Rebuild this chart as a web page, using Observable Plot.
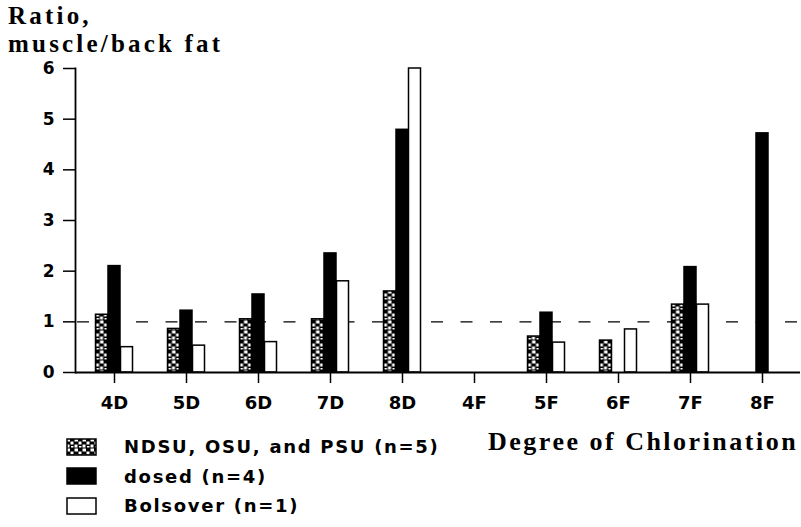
<!DOCTYPE html>
<html>
<head>
<meta charset="utf-8">
<script src="https://cdn.jsdelivr.net/npm/d3@7"></script>
<script src="https://cdn.jsdelivr.net/npm/@observablehq/plot@0.6"></script>
<style>
  html, body { margin: 0; padding: 0; background: #fff; }
  #wrap { position: relative; width: 801px; height: 527px; overflow: hidden; background: #fff; }
  #title { position: absolute; left: 8px; top: 2px; font-family: "Liberation Serif", "Times New Roman", serif; font-weight: bold; font-size: 25px; line-height: 28px; letter-spacing: 3.2px; color: #000; }
  #xtitle { position: absolute; left: 488px; top: 427px; font-family: "Liberation Serif", "Times New Roman", serif; font-weight: bold; font-size: 26px; letter-spacing: 2.5px; color: #000; white-space: nowrap; }
  #plot { position: absolute; left: 0; top: 0; }
  #legend { position: absolute; left: 66px; top: 432px; font-family: "DejaVu Sans", sans-serif; font-weight: bold; font-size: 18px; letter-spacing: 1.7px; color: #000; }
  .row { display: flex; align-items: center; height: 29.5px; }
  .row svg { margin-right: 27px; }
</style>
</head>
<body>
<div id="wrap">
  <div id="plot"></div>
  <div id="title">Ratio,<br>muscle/back fat</div>
  <div id="xtitle">Degree of Chlorination</div>
  <div id="legend"></div>
</div>
<script>
const categories = ["4D", "5D", "6D", "7D", "8D", "4F", "5F", "6F", "7F", "8F"];
const ndsu     = [1.14, 0.86, 1.05, 1.05, 1.60, null, 0.71, 0.63, 1.34, null];
const dosed    = [2.10, 1.22, 1.54, 2.35, 4.79, null, 1.18, null, 2.08, 4.72];
const bolsover = [0.50, 0.53, 0.60, 1.80, 6.00, null, 0.59, 0.85, 1.34, null];
const seriesNames = ["NDSU, OSU, and PSU (n=5)", "dosed (n=4)", "Bolsover (n=1)"];
const yTicks = [0, 1, 2, 3, 4, 5, 6];
const referenceRatio = [1];

const rows = (vals) => categories.map((c, i) => ({cat: c, v: vals[i]})).filter(d => d.v != null);

const fills = ["url(#stipple)", "#000", "#fff"];
const offsets = [-12.5, 0, 12.5];
const barOpts = (k) => ({x: "cat", y: "v", dx: offsets[k], insetLeft: 30, insetRight: 30,
  fill: fills[k], stroke: "#000", strokeWidth: 1.5});

const patternDefs = `<pattern id="stipple" width="8" height="10" patternUnits="userSpaceOnUse">
  <rect width="8" height="10" fill="#000"/>
  <rect x="0.5" y="0.5" width="3.5" height="3" fill="#fff"/>
  <rect x="4.5" y="3.5" width="3" height="3" fill="#fff"/>
  <rect x="0.5" y="6.5" width="3" height="3" fill="#fff"/>
  <rect x="5" y="8" width="2.5" height="1.5" fill="#fff"/>
</pattern>`;

const chart = Plot.plot({
  width: 801,
  height: 425,
  marginLeft: 75,
  marginRight: 1,
  marginTop: 68,
  marginBottom: 53,
  style: {fontFamily: "DejaVu Sans, sans-serif", fontWeight: "bold", fontSize: "16px", color: "#000", background: "#fff"},
  x: {domain: categories, padding: 0, axis: null},
  y: {domain: [0, 6], axis: null},
  marks: [
    Plot.ruleY(referenceRatio, {stroke: "#000", strokeWidth: 1.3, strokeDasharray: "12,17.5", strokeDashoffset: -2}),
    Plot.barY(rows(ndsu), barOpts(0)),
    Plot.barY(rows(dosed), barOpts(1)),
    Plot.barY(rows(bolsover), barOpts(2)),
    Plot.axisX({label: null, tickSize: 11, tickPadding: 13, fontSize: 18, fontWeight: "bold", stroke: "#000", strokeWidth: 1.5, style: "letter-spacing: 1px"}),
    Plot.axisY({label: null, ticks: yTicks, tickFormat: "d", tickSize: 12, tickPadding: 9, fontSize: 17, fontWeight: "bold", stroke: "#000", strokeWidth: 1.5}),
    Plot.ruleY([0], {stroke: "#000", strokeWidth: 1.8}),
    Plot.frame({anchor: "left", stroke: "#000", strokeWidth: 1.8})
  ]
});
d3.select(chart).insert("defs", ":first-child").html(patternDefs);
document.getElementById("plot").appendChild(chart);

// legend
const legend = d3.select("#legend");
seriesNames.forEach((name, k) => {
  const row = legend.append("div").attr("class", "row");
  const sw = row.append("svg").attr("width", 31).attr("height", 18);
  if (k === 0) sw.append("defs").html(patternDefs.replace('id="stipple"', 'id="stipple-leg"'));
  sw.append("rect").attr("x", 1).attr("y", 1).attr("width", 29).attr("height", 16)
    .attr("fill", k === 0 ? "url(#stipple-leg)" : fills[k]).attr("stroke", "#000").attr("stroke-width", 1.5);
  row.append("span").text(name);
});
</script>
</body>
</html>
